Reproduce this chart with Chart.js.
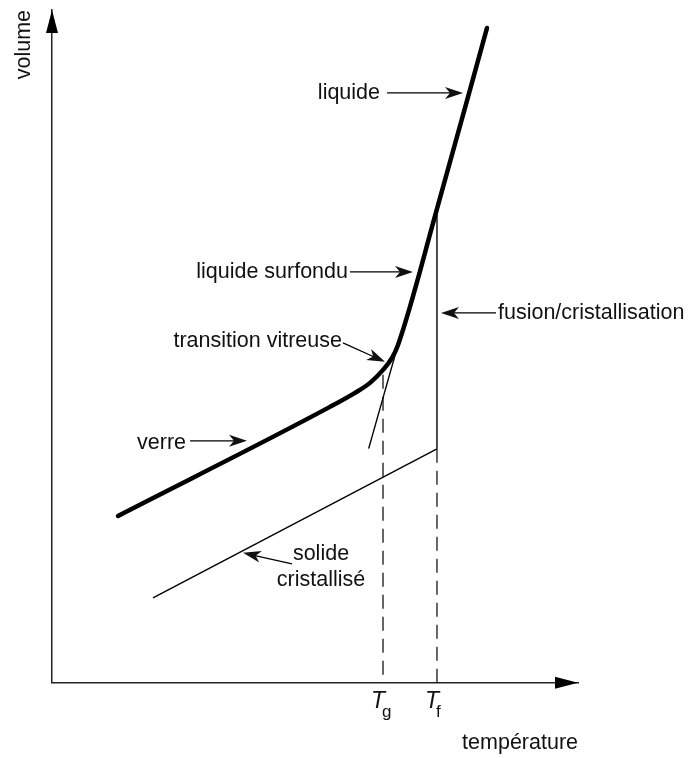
<!DOCTYPE html>
<html>
<head>
<meta charset="utf-8">
<script src="https://cdn.jsdelivr.net/npm/chart.js@4/dist/chart.umd.min.js"></script>
<style>
  html, body { margin: 0; background: #fff; }
  #wrap { width: 692px; height: 758px; }
</style>
</head>
<body>
<div id="wrap"><canvas id="c"></canvas></div>
<script>
// volume en fonction de la température (unités arbitraires 0-100)
const verreLiquideX = [12.55, 52.85, 57.60, 60.46, 62.93, 64.64, 65.78, 73.19, 82.70];
const verreLiquideY = [24.81, 41.01, 43.09, 44.58, 46.51, 48.29, 50.22, 70.43, 97.33];
const tangenteX = [65.78, 60.2];
const tangenteY = [50.22, 34.8];
const solideX = [19.2, 73.19];
const solideY = [12.63, 34.77];
const Tg = 62.93;
const Tf = 73.19;
const fusionY = [70.43, 34.77];
const tgDashY = [45.8, 0];
const tfDashY = [34.77, 0];
const tickValues = [Tg, Tf];
const tickSubs = ['g', 'f'];

const FONT = '"Liberation Sans", Arial, Helvetica, sans-serif';

function pts(xs, ys) {
    return xs.map((x, i) => ({x: x, y: ys[i]}));
}

// étiquettes + flèches (en unités du graphique)
const notes = [
    {t: ['liquide'], at: [62.36, 87.67], align: 'right', from: [63.69, 87.67], to: [78.14, 87.67]},
    {t: ['liquide surfondu'], at: [56.27, 61.07], align: 'right', from: [56.65, 61.07], to: [68.63, 61.07]},
    {t: ['fusion/cristallisation'], at: [84.79, 54.98], align: 'left', from: [84.41, 54.98], to: [73.95, 54.98]},
    {t: ['transition vitreuse'], at: [55.13, 50.82], align: 'right', from: [55.32, 50.52], to: [63.31, 47.70]},
    {t: ['verre'], at: [25.48, 35.66], align: 'right', from: [26.24, 35.96], to: [37.07, 35.96]},
    {t: ['solide', 'cristallisé'], at: [51.14, 19.17], align: 'center', from: [45.63, 17.68], to: [36.31, 19.32]}
];

function stealth(ctx, x0, y0, x1, y1, len, half, notch) {
    const a = Math.atan2(y1 - y0, x1 - x0);
    const c = Math.cos(a), s = Math.sin(a);
    ctx.beginPath();
    ctx.moveTo(x1, y1);
    ctx.lineTo(x1 - len * c + half * s, y1 - len * s - half * c);
    ctx.lineTo(x1 - (len - notch) * c, y1 - (len - notch) * s);
    ctx.lineTo(x1 - len * c - half * s, y1 - len * s + half * c);
    ctx.closePath();
    ctx.fill();
}

const decor = {
    id: 'decor',
    afterDraw(chart) {
        const {ctx, chartArea: a, scales: {x, y}} = chart;
        ctx.save();
        ctx.fillStyle = '#000';
        ctx.strokeStyle = '#000';

        // pointes des axes
        stealth(ctx, a.left, a.top + 30, a.left, a.top, 23, 6, 0);
        stealth(ctx, a.right - 30, a.bottom, a.right, a.bottom, 23, 6, 0);

        // T_g, T_f
        ctx.fillStyle = '#111';
        ctx.textBaseline = 'middle';
        tickValues.forEach((v, i) => {
            const px = x.getPixelForValue(v);
            ctx.font = 'italic 23px ' + FONT;
            ctx.textAlign = 'right';
            ctx.fillText('T', px + 2, a.bottom + 19);
            ctx.font = '17px ' + FONT;
            ctx.textAlign = 'left';
            ctx.fillText(tickSubs[i], px - 1, a.bottom + 30);
        });

        // annotations
        ctx.font = '21.5px ' + FONT;
        ctx.lineWidth = 1.3;
        notes.forEach(n => {
            const tx = x.getPixelForValue(n.at[0]), ty = y.getPixelForValue(n.at[1]);
            ctx.textAlign = n.align;
            n.t.forEach((line, k) => ctx.fillText(line, tx, ty + k * 26));
            const x0 = x.getPixelForValue(n.from[0]), y0 = y.getPixelForValue(n.from[1]);
            const x1 = x.getPixelForValue(n.to[0]), y1 = y.getPixelForValue(n.to[1]);
            const ang = Math.atan2(y1 - y0, x1 - x0);
            ctx.beginPath();
            ctx.moveTo(x0, y0);
            ctx.lineTo(x1 - 10 * Math.cos(ang), y1 - 10 * Math.sin(ang));
            ctx.stroke();
            stealth(ctx, x0, y0, x1, y1, 18, 6, 5);
        });
        ctx.restore();
    }
};

const thin = {showLine: true, pointRadius: 0, borderColor: '#000', borderWidth: 1.4, fill: false};
const dash = Object.assign({}, thin, {borderWidth: 1.2, borderDash: [14, 8]});

new Chart(document.getElementById('c'), {
    type: 'scatter',
    data: {
        datasets: [
            Object.assign({}, thin, {
                data: pts(verreLiquideX, verreLiquideY),
                borderWidth: 4.5,
                borderCapStyle: 'round',
                cubicInterpolationMode: 'monotone'
            }),
            Object.assign({}, thin, {data: pts(tangenteX, tangenteY)}),
            Object.assign({}, thin, {data: pts(solideX, solideY)}),
            Object.assign({}, thin, {data: pts([Tf, Tf], fusionY)}),
            Object.assign({}, dash, {data: pts([Tg, Tg], tgDashY)}),
            Object.assign({}, dash, {data: pts([Tf, Tf], tfDashY)})
        ]
    },
    options: {
        responsive: true,
        maintainAspectRatio: false,
        animation: false,
        layout: {padding: {left: 7, top: 10, right: 114, bottom: 2}},
        plugins: {legend: {display: false}, tooltip: {enabled: false}},
        scales: {
            x: {
                type: 'linear', min: 0, max: 100,
                grid: {display: false, drawTicks: false},
                border: {display: true, color: '#222', width: 1.5},
                ticks: {display: false},
                title: {
                    display: true, text: 'température', align: 'end', color: '#111',
                    font: {family: FONT, size: 21.5}, padding: {top: 47.4, bottom: 0}
                }
            },
            y: {
                type: 'linear', min: 0, max: 100,
                grid: {display: false, drawTicks: false},
                border: {display: true, color: '#222', width: 1.5},
                ticks: {display: false},
                title: {
                    display: true, text: 'volume', align: 'end', color: '#111',
                    font: {family: FONT, size: 21.5}, padding: {top: 4, bottom: 15.2}
                }
            }
        }
    },
    plugins: [decor]
});
</script>
</body>
</html>
